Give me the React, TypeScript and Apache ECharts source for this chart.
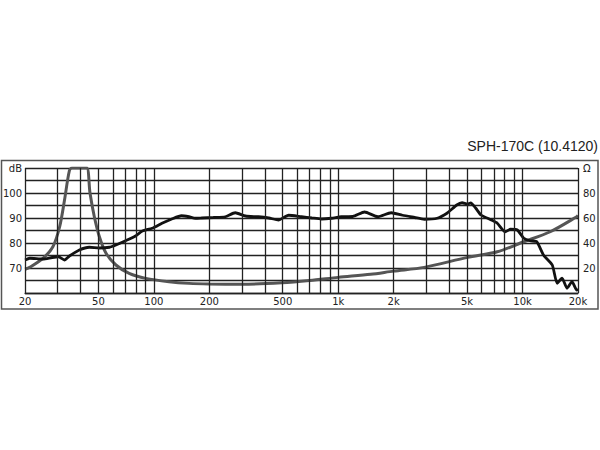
import React, { useEffect, useRef } from 'react';
import * as echarts from 'echarts';

const chartTitle = 'SPH-170C (10.4120)';

const xTickLabels = [20, 50, 100, 200, 500, 1000, 2000, 5000, 10000, 20000];
const gridFreqs = [
  20, 30, 40, 50, 60, 70, 80, 90, 100, 200, 300, 400, 500, 600, 700, 800, 900,
  1000, 2000, 3000, 4000, 5000, 6000, 7000, 8000, 9000, 10000, 20000,
];

// SPL curve (black, left axis, dB)
const splFreq = [
  20, 21.2, 25, 28, 30.3, 32.7, 34.8, 39.4, 44.6, 50.6, 57.4, 62.2, 70.2, 79.4,
  86.6, 97.9, 110.6, 125, 141, 155, 168, 182, 210, 244, 276, 314, 369, 420, 474,
  538, 632, 720, 811, 920, 1040, 1200, 1390, 1641, 1937, 2232, 2600, 2930, 3444,
  3891, 4398, 4702, 5024, 5236, 5578, 5955, 6776, 7297, 8055, 8600, 9365, 10160,
  10990, 11950, 12990, 14500, 15420, 16390, 17440, 18560, 19690, 20000,
];
const splDb = [
  73.2, 73.9, 73.6, 74.2, 74.5, 73.2, 74.8, 77.2, 78.3, 78.0, 78.3, 79.2, 80.9,
  82.8, 84.8, 85.9, 87.9, 89.6, 90.9, 90.5, 89.9, 90.0, 90.2, 90.5, 92.1, 90.8,
  90.5, 90.0, 89.2, 91.1, 90.5, 90.0, 89.6, 89.9, 90.5, 90.6, 92.4, 90.5, 92.1,
  91.1, 90.2, 89.5, 89.9, 91.9, 95.2, 96.1, 95.6, 96.0, 93.9, 91.2, 89.2, 87.9,
  84.5, 85.5, 85.2, 81.9, 80.9, 80.5, 75.2, 71.2, 63.9, 65.9, 61.9, 64.5, 61.2,
  61.5,
];

// Impedance curve (grey, right axis, Ohm)
const zFreq = [
  20, 21.2, 25, 28.3, 30.8, 32.7, 34.8, 36, 40, 43.2, 45, 47.5, 50.6, 54.9, 62.2,
  73.4, 90.3, 120.8, 155, 200, 300, 493, 700, 1000, 1500, 2000, 2930, 5024, 7297,
  10160, 14140, 19690, 20000,
];
const zOhm = [
  19.0, 20.6, 27.7, 37, 53, 74, 98, 100, 100, 100, 80, 61, 45, 32, 22.4, 15.7,
  11.7, 9, 7.7, 7.2, 7.0, 8.2, 10, 12.5, 15, 17.5, 20.5, 28.5, 33, 41, 49, 61,
  62,
];

const fmtFreq = (v: number) => {
  const r = Math.round(v);
  return r >= 1000 ? `${Math.round(r / 1000)}k` : String(r);
};

export default function App() {
  const ref = useRef<HTMLDivElement>(null);
  useEffect(() => {
    if (!ref.current) return;
    const chart = echarts.init(ref.current, null, { renderer: 'svg' });
    const font = 'DejaVu Sans';
    const gridColor = '#222';
    chart.setOption({
      animation: false,
      backgroundColor: '#fff',
      graphic: [
        {
          type: 'rect',
          shape: { x: 1.5, y: 160.5, width: 596.5, height: 148.5 },
          style: { fill: 'none', stroke: '#555', lineWidth: 1.5 },
          z: 0,
        },
        {
          type: 'text',
          x: 598,
          y: 145.5,
          style: {
            text: chartTitle,
            align: 'right',
            verticalAlign: 'middle',
            font: '14px "Liberation Sans", Arial, sans-serif',
            fill: '#222',
          },
        },
      ],
      grid: { left: 22, right: 22, top: 168, height: 125 },
      xAxis: {
        type: 'log',
        logBase: 10,
        min: 20,
        max: 20000,
        axisLine: { show: true, lineStyle: { color: gridColor, width: 1.3 } },
        axisTick: { show: false },
        splitLine: { show: false },
        minorTick: { show: false },
        axisLabel: {
          customValues: xTickLabels,
          formatter: (v: number) => fmtFreq(v),
          margin: 3,
          color: '#222',
          fontFamily: font,
          fontSize: 10,
        },
      },
      yAxis: [
        {
          type: 'value',
          min: 60,
          max: 110,
          interval: 5,
          axisLine: { show: false },
          axisTick: { show: false },
          splitLine: { show: true, lineStyle: { color: gridColor, width: 1.3 } },
          axisLabel: {
            margin: 3,
            color: '#222',
            fontFamily: font,
            fontSize: 10,
            formatter: (v: number) =>
              v === 110 ? 'dB' : v >= 70 && v <= 100 && v % 10 === 0 ? String(v) : '',
          },
        },
        {
          type: 'value',
          min: 0,
          max: 100,
          interval: 10,
          position: 'right',
          axisLine: { show: false },
          axisTick: { show: false },
          splitLine: { show: false },
          axisLabel: {
            margin: 5,
            color: '#222',
            fontFamily: font,
            fontSize: 10,
            formatter: (v: number) =>
              v === 100 ? 'Ω' : v > 0 && v < 100 && v % 20 === 0 ? String(v) : '',
          },
        },
      ],
      series: [
        {
          type: 'line',
          data: [],
          z: 1,
          silent: true,
          markLine: {
            silent: true,
            symbol: 'none',
            label: { show: false },
            lineStyle: { color: gridColor, width: 1.3, type: 'solid' },
            data: gridFreqs.map((f) => ({ xAxis: f })),
          },
        },
        {
          type: 'line',
          yAxisIndex: 1,
          z: 3,
          showSymbol: false,
          smooth: 0.3,
          data: zFreq.map((f, i) => [f, zOhm[i]]),
          lineStyle: { color: '#555', width: 3 },
        },
        {
          type: 'line',
          yAxisIndex: 0,
          z: 4,
          showSymbol: false,
          smooth: 0.2,
          data: splFreq.map((f, i) => [f, splDb[i]]),
          lineStyle: { color: '#111', width: 2.8 },
        },
      ],
    });
    return () => chart.dispose();
  }, []);
  return (
    <div
      ref={ref}
      style={{ position: 'fixed', left: 0, top: 0, width: 600, height: 450 }}
    />
  );
}
